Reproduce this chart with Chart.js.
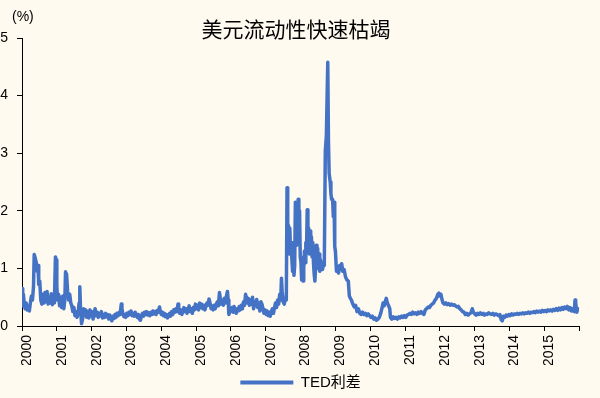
<!DOCTYPE html>
<html>
<head>
<meta charset="utf-8">
<script src="https://cdn.jsdelivr.net/npm/chart.js@4.4.1/dist/chart.umd.min.js"></script>
<style>
  html, body { margin: 0; padding: 0; background: #FFFAF0; }
  canvas { display: block; }
</style>
</head>
<body>
<canvas id="ted" width="600" height="398"></canvas>
<script>
// TED spread (%), sampled observations, x as decimal year
const dates = [
  2000.00,2000.02,2000.04,2000.06,2000.09,2000.12,2000.15,2000.18,2000.21,2000.24,2000.27,2000.30,2000.33,2000.35,2000.38,2000.41,2000.44,2000.46,2000.48,2000.51,2000.54,2000.57,2000.60,2000.63,2000.66,2000.69,2000.72,2000.75,2000.78,2000.81,2000.84,2000.87,2000.90,2000.93,2000.96,2000.98,
  2001.00,2001.02,2001.05,2001.08,2001.11,2001.14,2001.17,2001.20,2001.23,2001.25,2001.28,2001.31,2001.34,2001.37,2001.40,2001.43,2001.46,2001.49,2001.52,2001.55,2001.58,2001.61,2001.64,2001.66,2001.68,2001.71,2001.74,2001.77,2001.80,2001.83,2001.86,2001.89,2001.92,2001.95,2001.98,
  2002.01,2002.04,2002.07,2002.10,2002.13,2002.16,2002.19,2002.22,2002.25,2002.28,2002.31,2002.34,2002.37,2002.40,2002.43,2002.46,2002.49,2002.52,2002.55,2002.58,2002.61,2002.64,2002.67,2002.70,2002.73,2002.76,2002.79,2002.82,2002.85,2002.87,2002.90,2002.93,2002.96,2002.98,
  2003.01,2003.04,2003.07,2003.10,2003.13,2003.16,2003.19,2003.22,2003.25,2003.28,2003.31,2003.34,2003.37,2003.40,2003.43,2003.46,2003.49,2003.52,2003.55,2003.58,2003.61,2003.64,2003.67,2003.70,2003.73,2003.76,2003.79,2003.82,2003.85,2003.88,2003.91,2003.95,2003.97,
  2004.00,2004.03,2004.06,2004.09,2004.12,2004.15,2004.18,2004.21,2004.24,2004.27,2004.30,2004.33,2004.36,2004.39,2004.42,2004.45,2004.48,2004.50,2004.53,2004.56,2004.59,2004.62,2004.65,2004.68,2004.71,2004.74,2004.77,2004.80,2004.83,2004.86,2004.89,2004.92,2004.95,2004.98,
  2005.01,2005.04,2005.07,2005.10,2005.13,2005.16,2005.19,2005.22,2005.25,2005.28,2005.31,2005.34,2005.37,2005.40,2005.43,2005.46,2005.49,2005.52,2005.55,2005.58,2005.61,2005.64,2005.67,2005.69,2005.72,2005.75,2005.78,2005.81,2005.84,2005.87,2005.90,2005.92,2005.94,2005.97,
  2006.00,2006.03,2006.06,2006.09,2006.12,2006.15,2006.18,2006.21,2006.24,2006.27,2006.30,2006.33,2006.36,2006.39,2006.42,2006.44,2006.47,2006.50,2006.53,2006.56,2006.59,2006.62,2006.65,2006.68,2006.71,2006.74,2006.77,2006.80,2006.83,2006.86,2006.89,2006.92,2006.95,2006.98,
  2007.01,2007.04,2007.07,2007.10,2007.13,2007.16,2007.19,2007.22,2007.25,2007.28,2007.31,2007.34,2007.37,2007.40,2007.43,2007.45,2007.47,2007.50,2007.53,2007.56,2007.59,2007.61,2007.63,2007.65,2007.67,2007.69,2007.71,2007.73,2007.75,2007.77,2007.79,2007.81,2007.83,2007.85,2007.87,2007.89,2007.91,2007.93,2007.95,2007.97,2007.99,
  2008.01,2008.03,2008.05,2008.07,2008.09,2008.11,2008.13,2008.15,2008.17,2008.19,2008.21,2008.23,2008.25,2008.27,2008.29,2008.31,2008.33,2008.35,2008.37,2008.39,2008.41,2008.43,2008.45,2008.47,2008.49,2008.51,2008.53,2008.55,2008.57,2008.59,2008.61,2008.63,2008.65,2008.68,2008.71,2008.74,2008.78,2008.80,2008.82,2008.85,2008.87,2008.89,2008.92,2008.94,2008.96,2008.98,
  2009.00,2009.03,2009.06,2009.09,2009.12,2009.15,2009.18,2009.21,2009.25,2009.29,2009.33,2009.37,2009.40,2009.43,2009.46,2009.50,2009.54,2009.58,2009.62,2009.66,2009.70,2009.74,2009.78,2009.82,2009.86,2009.90,2009.94,2009.98,
  2010.02,2010.06,2010.10,2010.14,2010.18,2010.22,2010.26,2010.30,2010.34,2010.37,2010.40,2010.43,2010.46,2010.49,2010.52,2010.56,2010.58,2010.62,2010.66,2010.70,2010.74,2010.78,2010.82,2010.86,2010.90,2010.94,2010.98,
  2011.02,2011.06,2011.10,2011.14,2011.18,2011.22,2011.26,2011.30,2011.34,2011.38,2011.42,2011.46,2011.50,2011.54,2011.58,2011.62,2011.66,2011.70,2011.74,2011.78,2011.82,2011.86,2011.90,2011.94,2011.97,
  2012.00,2012.03,2012.06,2012.09,2012.13,2012.17,2012.21,2012.25,2012.29,2012.33,2012.37,2012.41,2012.45,2012.49,2012.53,2012.57,2012.61,2012.65,2012.69,2012.73,2012.77,2012.81,2012.85,2012.89,2012.93,2012.96,
  2013.00,2013.04,2013.08,2013.12,2013.16,2013.20,2013.24,2013.28,2013.32,2013.36,2013.40,2013.44,2013.48,2013.52,2013.56,2013.60,2013.64,2013.68,2013.72,2013.76,2013.79,2013.82,2013.86,2013.90,2013.94,2013.98,
  2014.02,2014.06,2014.10,2014.14,2014.18,2014.22,2014.26,2014.30,2014.34,2014.38,2014.42,2014.46,2014.50,2014.54,2014.58,2014.62,2014.66,2014.70,2014.74,2014.78,2014.82,2014.86,2014.90,2014.94,2014.98,
  2015.02,2015.06,2015.10,2015.14,2015.18,2015.22,2015.26,2015.30,2015.34,2015.38,2015.42,2015.46,2015.50,2015.54,2015.58,2015.62,2015.66,2015.70,2015.74,2015.78,2015.82,2015.86,2015.88,2015.90,2015.93,2015.96
];

const tedSpread = [
  0.65,0.35,0.55,0.42,0.30,0.40,0.28,0.35,0.26,0.40,0.52,0.45,0.68,1.24,1.18,1.10,0.95,1.05,0.72,0.78,0.45,0.38,0.55,0.40,0.58,0.42,0.60,0.38,0.50,0.40,0.56,0.37,0.45,0.40,1.20,1.15,
  0.70,0.45,0.55,0.35,0.50,0.32,0.52,0.30,0.45,0.94,0.90,0.60,0.45,0.55,0.40,0.35,0.25,0.32,0.18,0.25,0.15,0.22,0.40,0.68,0.30,0.04,0.12,0.30,0.18,0.28,0.15,0.25,0.14,0.28,0.18,
  0.25,0.12,0.22,0.30,0.18,0.24,0.15,0.22,0.18,0.25,0.14,0.20,0.15,0.22,0.16,0.20,0.12,0.19,0.14,0.09,0.17,0.13,0.20,0.15,0.22,0.18,0.24,0.20,0.38,0.30,0.20,0.16,0.20,0.15,
  0.22,0.18,0.24,0.20,0.26,0.18,0.22,0.17,0.24,0.19,0.15,0.20,0.12,0.10,0.18,0.22,0.17,0.24,0.20,0.25,0.19,0.23,0.18,0.24,0.20,0.26,0.21,0.25,0.20,0.27,0.24,0.33,0.25,
  0.20,0.24,0.18,0.22,0.16,0.20,0.14,0.18,0.22,0.17,0.25,0.20,0.28,0.24,0.30,0.25,0.38,0.30,0.22,0.28,0.20,0.26,0.32,0.25,0.30,0.22,0.28,0.35,0.25,0.30,0.22,0.32,0.28,0.38,
  0.30,0.36,0.28,0.40,0.32,0.38,0.30,0.36,0.28,0.34,0.40,0.36,0.47,0.40,0.30,0.35,0.28,0.36,0.30,0.38,0.42,0.35,0.58,0.50,0.38,0.45,0.36,0.48,0.40,0.52,0.60,0.45,0.20,0.25,
  0.28,0.32,0.24,0.34,0.28,0.22,0.30,0.26,0.34,0.28,0.36,0.30,0.42,0.36,0.55,0.50,0.40,0.48,0.36,0.45,0.38,0.50,0.30,0.42,0.35,0.46,0.32,0.40,0.26,0.42,0.38,0.30,0.22,0.28,
  0.20,0.26,0.18,0.24,0.17,0.25,0.30,0.22,0.32,0.40,0.32,0.45,0.38,0.55,0.45,0.83,0.60,0.42,0.38,0.48,0.45,2.40,1.40,1.75,1.25,1.70,1.30,1.45,1.15,0.95,1.20,0.88,1.05,2.15,1.40,1.80,1.55,2.20,1.70,2.00,1.20,
  1.10,0.80,1.05,0.78,1.00,1.30,1.10,1.45,1.30,2.02,1.55,1.70,1.25,1.65,1.40,1.55,1.20,1.45,1.10,0.90,0.78,1.00,1.40,1.15,1.35,1.00,1.25,0.95,1.15,1.00,1.10,0.98,1.05,1.05,3.05,3.30,4.58,3.20,2.65,2.50,2.30,2.20,2.20,1.90,2.15,1.38,
  1.30,0.95,1.00,0.92,1.05,0.98,1.08,0.95,0.98,0.85,0.80,0.78,0.52,0.48,0.45,0.38,0.33,0.36,0.25,0.30,0.22,0.20,0.24,0.20,0.22,0.18,0.21,0.18,
  0.15,0.17,0.12,0.14,0.10,0.12,0.15,0.22,0.32,0.40,0.35,0.42,0.48,0.40,0.36,0.30,0.15,0.12,0.16,0.13,0.15,0.12,0.16,0.14,0.17,0.15,0.18,
  0.15,0.19,0.20,0.22,0.20,0.24,0.21,0.23,0.20,0.24,0.22,0.25,0.22,0.20,0.28,0.30,0.33,0.32,0.36,0.38,0.40,0.45,0.48,0.55,0.57,
  0.52,0.55,0.46,0.40,0.38,0.40,0.37,0.39,0.36,0.38,0.36,0.37,0.35,0.33,0.34,0.30,0.28,0.25,0.24,0.20,0.22,0.19,0.21,0.23,0.30,0.24,
  0.21,0.19,0.22,0.20,0.23,0.20,0.22,0.19,0.21,0.20,0.23,0.21,0.20,0.22,0.19,0.21,0.20,0.18,0.20,0.11,0.09,0.17,0.15,0.19,0.17,0.20,
  0.18,0.21,0.19,0.21,0.20,0.22,0.20,0.22,0.21,0.23,0.21,0.23,0.22,0.24,0.22,0.24,0.23,0.25,0.23,0.26,0.24,0.26,0.24,0.27,0.25,
  0.27,0.25,0.28,0.26,0.28,0.26,0.29,0.27,0.30,0.27,0.31,0.28,0.32,0.29,0.33,0.30,0.34,0.28,0.32,0.26,0.30,0.25,0.45,0.40,0.24,0.30
];

const yearTicks = [2000,2001,2002,2003,2004,2005,2006,2007,2008,2009,2010,2011,2012,2013,2014,2015,2016];
const valueTicks = [0,1,2,3,4,5];
const chartTitle = '美元流动性快速枯竭';
const seriesName = 'TED利差';
const unitText = '(%)';

const lineColor = '#4472C4';
const paper = '#FFFAF0';
const latinFont = "'Liberation Sans', Arial, sans-serif";
const cjkFont = "'Noto Sans CJK SC', sans-serif";

// paints the paper colour behind everything
const paperPlugin = {
  id: 'paper',
  beforeDraw(chart) {
    const c = chart.ctx;
    c.save();
    c.fillStyle = paper;
    c.fillRect(0, 0, chart.width, chart.height);
    c.restore();
  }
};

// unit caption above the value axis
const unitPlugin = {
  id: 'unitCaption',
  afterDraw(chart) {
    const c = chart.ctx;
    c.save();
    c.fillStyle = '#000';
    c.font = "14px " + latinFont;
    c.textBaseline = 'middle';
    c.textAlign = 'left';
    c.fillText(unitText, 12, 17);
    c.restore();
  }
};

// centres the legend under the plot area rather than the whole canvas
const legendShift = {
  id: 'legendShift',
  afterLayout(chart) {
    const lg = chart.legend;
    if (!lg) return;
    const target = (chart.chartArea.left + chart.chartArea.right) / 2;
    const dx = target - (lg.left + lg.right) / 2;
    lg.left += dx;
    lg.right += dx;
  }
};

const points = dates.map((d, i) => ({ x: d, y: tedSpread[i] }));

new Chart(document.getElementById('ted'), {
  type: 'line',
  data: {
    datasets: [{
      label: seriesName,
      data: points,
      borderColor: lineColor,
      backgroundColor: lineColor,
      borderWidth: 3.5,
      pointRadius: 0,
      tension: 0,
      borderJoinStyle: 'round',
      borderCapStyle: 'round'
    }]
  },
  options: {
    responsive: false,
    animation: false,
    devicePixelRatio: 1,
    layout: { padding: { left: 0, right: 8, top: 0, bottom: -2 } },
    plugins: {
      title: {
        display: true,
        text: chartTitle,
        color: '#000',
        font: { family: cjkFont, size: 21, weight: 'normal', lineHeight: 1 },
        padding: { top: 19, bottom: -2 }
      },
      legend: {
        display: true,
        position: 'bottom',
        labels: {
          color: '#000',
          font: { family: latinFont + ", " + cjkFont, size: 15 },
          boxWidth: 53,
          boxHeight: 4,
          padding: 10,
          generateLabels(chart) {
            return Chart.defaults.plugins.legend.labels.generateLabels(chart).map(item => {
              item.fillStyle = lineColor;
              item.strokeStyle = lineColor;
              item.lineWidth = 0;
              return item;
            });
          }
        }
      },
      tooltip: { enabled: false }
    },
    scales: {
      x: {
        type: 'linear',
        min: 2000,
        max: 2016,
        afterBuildTicks(scale) { scale.ticks = yearTicks.map(v => ({ value: v })); },
        afterFit(scale) { scale.height = 39; },
        border: { display: true, color: '#000', width: 1 },
        grid: { display: true, drawOnChartArea: false, drawTicks: true, tickLength: 5, color: '#000' },
        ticks: {
          autoSkip: false,
          minRotation: 90,
          maxRotation: 90,
          padding: 4,
          labelOffset: 5,
          color: '#000',
          font: { family: latinFont, size: 14 },
          callback: v => (v === 2016 ? '' : String(v))
        }
      },
      y: {
        min: 0,
        max: 5,
        afterBuildTicks(scale) { scale.ticks = valueTicks.map(v => ({ value: v })); },
        afterFit(scale) { scale.width = 22; },
        border: { display: true, color: '#000', width: 1 },
        grid: { display: true, drawOnChartArea: false, drawTicks: true, tickLength: 5, color: '#000' },
        ticks: {
          padding: 9,
          color: '#000',
          font: { family: latinFont, size: 14 }
        }
      }
    }
  },
  plugins: [paperPlugin, unitPlugin, legendShift]
});
</script>
</body>
</html>
